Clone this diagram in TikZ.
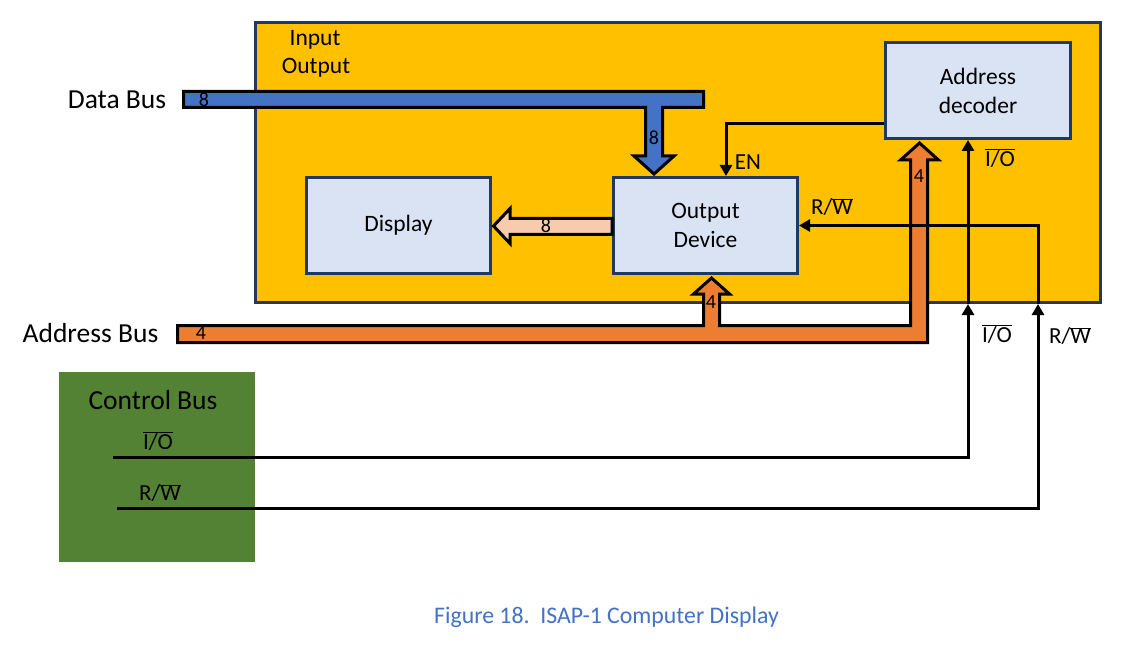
\documentclass[tikz,border=0pt]{standalone}
\usepackage{fontspec}
\setmainfont{Carlito}
\usetikzlibrary{arrows.meta}
\definecolor{ioyellow}{HTML}{FFC000}
\definecolor{navyb}{HTML}{1F3864}
\definecolor{boxblue}{HTML}{DAE3F3}
\definecolor{dbusblue}{HTML}{4472C4}
\definecolor{abusorange}{HTML}{ED7D31}
\definecolor{peach}{HTML}{F8CBAD}
\definecolor{cbgreen}{HTML}{548235}
\definecolor{captionblue}{HTML}{4472C4}
\newcommand{\ovl}[1]{\ensuremath{\overline{\mbox{#1}}}}
\begin{document}
\begin{tikzpicture}[x=1pt,y=-1pt,
  blk/.style={draw=navyb, line width=3pt, fill=boxblue, minimum width=184pt,
    minimum height=96pt, inner sep=0pt, align=center,
    font=\fontsize{23.5}{29}\selectfont},
  conn/.style={draw=black, line width=3pt, -{Triangle[length=11pt,width=12pt]}},
  bus/.style={draw=black, line width=3pt, line join=miter},
  biglbl/.style={font=\fontsize{27.5}{33}\selectfont, inner sep=0pt},
  midlbl/.style={font=\fontsize{23.5}{29}\selectfont, inner sep=0pt},
  siglbl/.style={font=\fontsize{23}{28}\selectfont, inner sep=0pt},
  numlbl/.style={font=\fontsize{20}{24}\selectfont, inner sep=0pt}]
\useasboundingbox (0,0) rectangle (1123,652);
\fill[white] (0,0) rectangle (1123,652);

% Input/Output module
\node[draw=navyb, line width=3pt, fill=ioyellow, minimum width=845pt,
  minimum height=280pt, inner sep=0pt] (io) at (678,162.5) {};
\node[midlbl] (inlbl) at (315,40) {Input};
\node[midlbl] (outlbl) at (316,68) {Output};

\node[blk] (disp) at (398.5,225.5) {Display};
\node[blk] (od) at (705.5,225.5) {Output\\Device};
\node[blk, minimum width=185pt] (dec) at (978,90.5) {Address\\decoder};

% Data bus
\filldraw[bus, fill=dbusblue] (183.5,91.5) -- (703.5,91.5) -- (703.5,107.5)
  -- (662.5,107.5) -- (662.5,156) -- (674,156) -- (654,174) -- (634,156)
  -- (645.5,156) -- (645.5,107.5) -- (183.5,107.5) -- cycle;
\node[biglbl] (dblbl) at (117,100) {Data Bus};
\node[numlbl] (db8) at (204,100) {8};
\node[numlbl] (db8b) at (654,138) {8};

% Address bus
\filldraw[bus, fill=abusorange] (177.5,325.5) -- (703.5,325.5) -- (703.5,294)
  -- (693.5,294) -- (711.5,278) -- (729.5,294) -- (719.5,294) -- (719.5,325.5)
  -- (910.5,325.5) -- (910.5,160) -- (900.5,160) -- (919.5,143) -- (938.5,160)
  -- (927.5,160) -- (927.5,342.5) -- (177.5,342.5) -- cycle;
\node[biglbl] (ablbl) at (90.5,333) {Address Bus};
\node[numlbl] (ab4) at (201,333) {4};
\node[numlbl] (ab4b) at (711,302) {4};
\node[numlbl] (ab4c) at (919,176) {4};

% Output device -> display
\filldraw[bus, fill=peach] (612,218.5) -- (510,218.5) -- (510,208.5)
  -- (493.5,226) -- (510,243.5) -- (510,234.5) -- (612,234.5) -- cycle;
\node[numlbl] (d8) at (546,226) {8};

% Control bus
\node[fill=cbgreen, minimum width=196pt, minimum height=190pt, inner sep=0pt]
  (cb) at (157,467) {};
\node[biglbl] (cblbl) at (153,400) {Control Bus};
\node[siglbl] (cbio) at (158,441) {\ovl{I/O}};
\node[siglbl] (cbrw) at (160,493) {R/\ovl{W}};

\coordinate (cbIOs) at (113,457);
\coordinate (ioC) at (968,457);
\coordinate (cbRWs) at (117,508);
\coordinate (rwC) at (1038,508);
\coordinate (enX) at (726,124);

\draw[conn] (cbIOs) -- (ioC) -- (io.south -| ioC);
\draw[conn] (io.south -| ioC) -- (dec.south -| ioC);
\draw[conn] (cbRWs) -- (rwC) -- (io.south -| rwC);
\draw[conn] (io.south -| rwC) |- (od.east);
\draw[conn] (dec.west |- enX) -| (od.north -| enX);

% signal labels
\node[siglbl] (enlbl) at (748,162) {EN};
\node[siglbl] (rwin) at (832,207) {R/\ovl{W}};
\node[siglbl] (ioin) at (1000,158) {\ovl{I/O}};
\node[siglbl] (ioout) at (997,334) {\ovl{I/O}};
\node[siglbl] (rwout) at (1070,336) {R/\ovl{W}};

% caption
\node[font=\fontsize{23.8}{28}\selectfont, text=captionblue, inner sep=0pt]
  (cap) at (606.5,617) {Figure 18.\ \ ISAP-1 Computer Display};
\end{tikzpicture}
\end{document}
